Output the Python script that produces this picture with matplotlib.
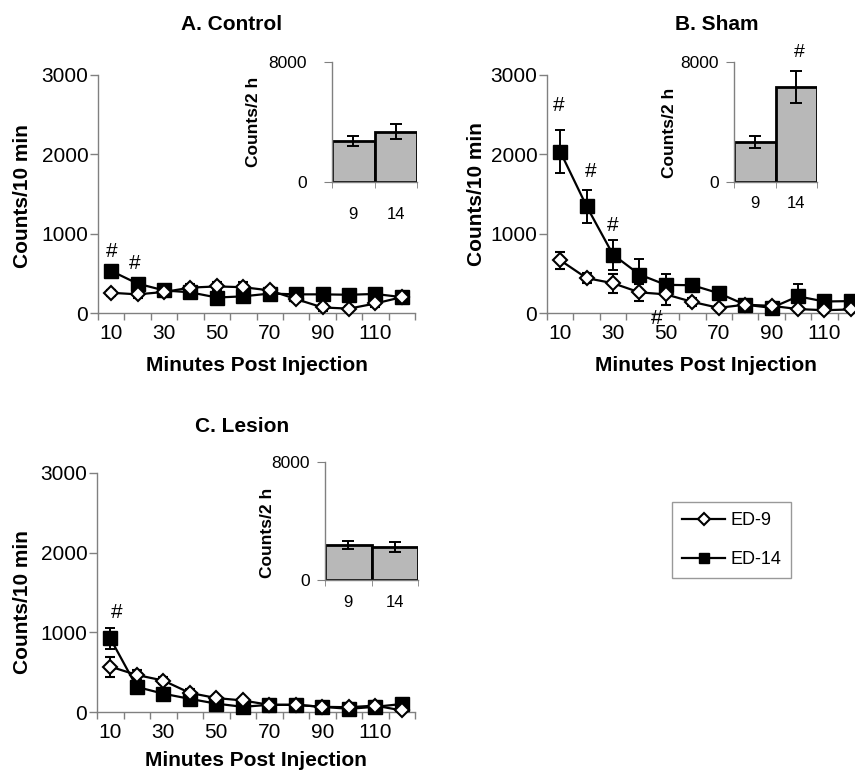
import matplotlib
matplotlib.use("Agg")
import matplotlib.pyplot as plt
from matplotlib.lines import Line2D
from matplotlib.ticker import FixedLocator

plt.rcParams['font.family'] = ['Liberation Sans', 'DejaVu Sans']

W, H = 855, 773

minutes = [10, 20, 30, 40, 50, 60, 70, 80, 90, 100, 110, 120]
tick_labels = [10, 30, 50, 70, 90, 110]

# Panel A: Control
a_ed9 = [255, 235, 265, 320, 335, 325, 285, 175, 70, 55, 120, 200]
a_ed9_err = [40, 40, 40, 40, 50, 70, 40, 40, 40, 30, 40, 40]
a_ed14 = [530, 370, 285, 260, 195, 210, 245, 235, 235, 230, 240, 200]
a_ed14_err = [60, 50, 40, 50, 40, 50, 40, 40, 40, 40, 50, 70]

# Panel B: Sham
b_ed9 = [665, 440, 375, 260, 235, 140, 65, 105, 90, 50, 35, 45]
b_ed9_err = [110, 60, 120, 110, 130, 50, 30, 30, 30, 30, 30, 30]
b_ed14 = [2035, 1345, 735, 485, 355, 350, 250, 105, 65, 210, 145, 150]
b_ed14_err = [270, 210, 190, 200, 140, 80, 60, 40, 40, 150, 50, 50]

# Panel C: Lesion
c_ed9 = [570, 465, 395, 240, 175, 145, 90, 90, 65, 60, 80, 20]
c_ed9_err = [125, 60, 40, 50, 30, 30, 20, 20, 20, 20, 20, 20]
c_ed14 = [925, 315, 230, 165, 105, 65, 90, 90, 65, 40, 65, 100]
c_ed14_err = [130, 50, 40, 40, 30, 20, 20, 20, 20, 20, 20, 20]

# Insets: total counts / 2 h
inset_days = ["9", "14"]
a_tot = [2750, 3350]
a_tot_err = [320, 500]
b_tot = [2700, 6350]
b_tot_err = [400, 1070]
c_tot = [2370, 2220]
c_tot_err = [250, 330]

titles = ["A. Control", "B. Sham", "C. Lesion"]

GRAY = "#808080"
BAR = "#b8b8b8"


def fr(x0, y0, x1, y1):
    """pixel box -> figure fraction rect"""
    return [x0 / W, 1 - y1 / H, (x1 - x0) / W, (y1 - y0) / H]


fig = plt.figure(figsize=(W / 100, H / 100), dpi=100)


def main_panel(rect, ed9, ed9e, ed14, ed14e, title, title_xy, ylab_x, ylab_y, xlab_y):
    ax = fig.add_axes(rect)
    ax.errorbar(minutes, ed14, yerr=ed14e, color="black", marker="s", ms=9.5,
                mfc="black", mec="black", lw=1.6, elinewidth=1.4, capsize=3.5,
                capthick=1.4, zorder=3, clip_on=False)
    ax.errorbar(minutes, ed9, yerr=ed9e, color="black", marker="D", ms=7.5,
                mfc="white", mec="black", mew=1.5, lw=1.6, elinewidth=1.4,
                capsize=3.5, capthick=1.4, zorder=4, clip_on=False)
    ax.set_xlim(5, 125)
    ax.set_ylim(0, 3000)
    for s in ["top", "right"]:
        ax.spines[s].set_visible(False)
    for s in ["left", "bottom"]:
        ax.spines[s].set_color(GRAY)
        ax.spines[s].set_linewidth(1.0)
    ax.set_yticks([0, 1000, 2000, 3000])
    ax.set_xticks(tick_labels)
    ax.set_xticklabels([str(t) for t in tick_labels])
    ax.xaxis.set_minor_locator(FixedLocator([5 + 10 * i for i in range(13)]))
    ax.tick_params(axis="x", which="major", length=0, pad=8, labelsize=15)
    ax.tick_params(axis="x", which="minor", length=5, color=GRAY, width=1)
    ax.tick_params(axis="y", length=6, color=GRAY, width=1, labelsize=15, pad=1)
    ax.set_ylabel("Counts/10 min", fontsize=15, fontweight="bold")
    ax.yaxis.set_label_coords(ylab_x, ylab_y)
    ax.set_xlabel("Minutes Post Injection", fontsize=15, fontweight="bold")
    ax.xaxis.set_label_coords(0.5, xlab_y)
    fig.text(title_xy[0] / W, 1 - title_xy[1] / H, title, fontsize=15,
             fontweight="bold", ha="center", va="center")
    return ax


def inset_panel(rect, tot, tot_err, ylab_xy, xpad, ypad):
    ax = fig.add_axes(rect)
    ax.bar([0, 1], tot, width=1.0, color=BAR, edgecolor="black", linewidth=2,
           zorder=2)
    ax.errorbar([0, 1], tot, yerr=tot_err, fmt="none", ecolor="black",
                elinewidth=1.4, capsize=4, capthick=1.4, zorder=3)
    ax.set_xlim(-0.5, 1.5)
    ax.set_ylim(0, 8000)
    ax.set_facecolor("none")
    for s in ["top", "right"]:
        ax.spines[s].set_visible(False)
    ax.spines["left"].set_color(GRAY)
    ax.spines["left"].set_linewidth(1.0)
    ax.spines["bottom"].set_color(GRAY)
    ax.spines["bottom"].set_linewidth(1.0)
    ax.set_yticks([0, 8000])
    ax.set_yticklabels(["0", "8000"])
    ax.set_xticks([0, 1])
    ax.set_xticklabels(inset_days)
    ax.xaxis.set_minor_locator(FixedLocator([-0.5, 0.5, 1.5]))
    ax.tick_params(axis="x", which="major", length=0, pad=xpad, labelsize=12)
    ax.tick_params(axis="x", which="minor", length=4, color=GRAY)
    ax.tick_params(axis="y", length=6, color=GRAY, labelsize=12.5, pad=ypad)
    fig.text(ylab_xy[0] / W, 1 - ylab_xy[1] / H, "Counts/2 h", rotation=90,
             fontsize=12.5, fontweight="bold", ha="center", va="center")
    return ax


axA = main_panel(fr(98, 75, 415, 313), a_ed9, a_ed9_err, a_ed14, a_ed14_err,
                 titles[0], (232, 24), -0.208, 0.49, -0.18)
axB = main_panel(fr(547, 75, 864, 313), b_ed9, b_ed9_err, b_ed14, b_ed14_err,
                 titles[1], (717, 24), -0.192, 0.5, -0.18)
axC = main_panel(fr(97, 473, 415, 712), c_ed9, c_ed9_err, c_ed14, c_ed14_err,
                 titles[2], (242, 427), -0.204, 0.46, -0.165)

hfs = 15
axA.text(10, 770, "#", fontsize=hfs, ha="center", va="center")
axA.text(19, 630, "#", fontsize=hfs, ha="center", va="center")
axB.text(9.5, 2610, "#", fontsize=hfs, ha="center", va="center")
axB.text(21.5, 1780, "#", fontsize=hfs, ha="center", va="center")
axB.text(30, 1100, "#", fontsize=hfs, ha="center", va="center")
axB.text(46.5, -70, "#", fontsize=hfs, ha="center", va="center", clip_on=False)
axC.text(12.5, 1255, "#", fontsize=hfs, ha="center", va="center")

iA = inset_panel(fr(332, 62, 417, 182), a_tot, a_tot_err, (253, 122), 18, 12)
iB = inset_panel(fr(734, 62, 817, 182), b_tot, b_tot_err, (670, 133), 10, 5)
iC = inset_panel(fr(325, 462, 418, 580), c_tot, c_tot_err, (267, 533), 11, 5)
iB.text(1.07, 8650, "#", fontsize=14, ha="center", va="center", clip_on=False)

handles = [
    Line2D([], [], color="black", lw=1.6, marker="D", ms=6, mfc="white",
           mec="black", mew=1.5),
    Line2D([], [], color="black", lw=1.6, marker="s", ms=7.5, mfc="black",
           mec="black"),
]
leg = fig.legend(handles, ["ED-9", "ED-14"], loc="upper left",
                 bbox_to_anchor=(672 / W, 1 - 502 / H), borderaxespad=0,
                 fontsize=13, frameon=True, fancybox=False, edgecolor=GRAY,
                 handlelength=2.4, labelspacing=1.25, borderpad=0.55,
                 handletextpad=0.3)
leg.get_frame().set_linewidth(1.0)

fig.savefig("out.png", dpi=100)
